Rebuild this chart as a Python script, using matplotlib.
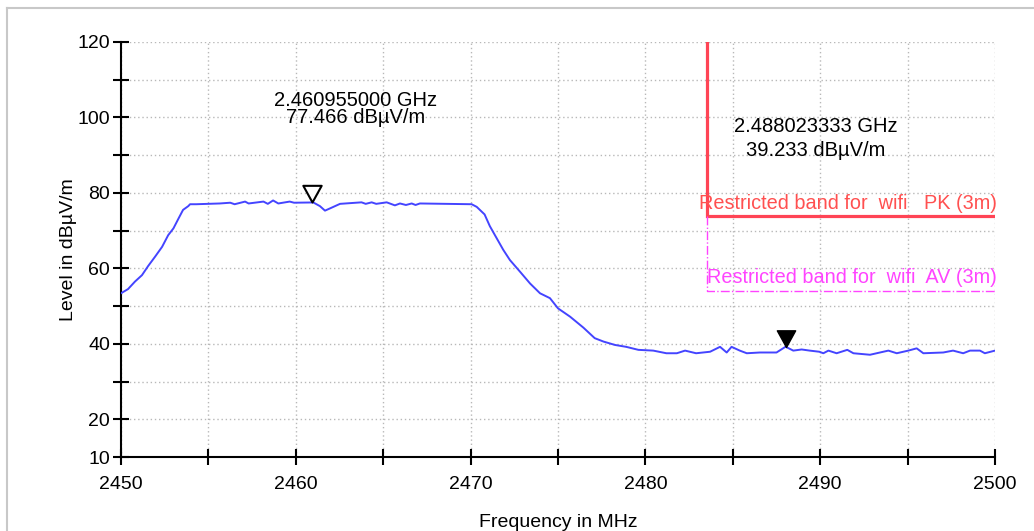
import matplotlib
matplotlib.use('Agg')
import matplotlib.pyplot as plt
from matplotlib.lines import Line2D
from matplotlib.path import Path

plt.rcParams['font.family'] = ['Liberation Sans', 'DejaVu Sans']

# ── Trace ──
freq_mhz = [2450.0, 2450.4, 2450.8, 2451.2, 2451.55, 2451.95, 2452.35, 2452.7,
            2453.0, 2453.3, 2453.55, 2453.85, 2453.95, 2454.3, 2455.65, 2456.25,
            2456.5, 2457.1, 2457.3, 2458.15, 2458.4, 2458.7, 2459.0, 2459.65,
            2459.9, 2461.0, 2461.38, 2461.67, 2461.96, 2462.53, 2463.76, 2464.0,
            2464.34, 2464.6, 2465.2, 2465.67, 2465.96, 2466.3, 2466.63, 2466.85,
            2467.1, 2470.06, 2470.35, 2470.8, 2471.1, 2471.49, 2471.87, 2472.25,
            2472.83, 2473.4, 2473.97, 2474.54, 2475.0, 2475.69, 2476.45, 2477.1,
            2477.6, 2478.26, 2478.9, 2479.6, 2480.45, 2481.2, 2481.8, 2482.27,
            2482.9, 2483.7, 2484.27, 2484.65, 2484.93, 2485.4, 2485.8, 2486.55,
            2487.5, 2488.02, 2488.46, 2488.94, 2489.4, 2489.95, 2490.18, 2490.47,
            2490.94, 2491.55, 2491.9, 2492.85, 2493.42, 2493.9, 2494.38, 2495.04,
            2495.52, 2495.9, 2497.04, 2497.6, 2498.18, 2498.57, 2499.14, 2499.42,
            2500.0]
level_dbuv = [53.4, 54.5, 56.5, 58.2, 60.6, 63.1, 65.7, 68.8,
              70.6, 73.3, 75.5, 76.5, 77.0, 77.0, 77.2, 77.4,
              77.0, 77.7, 77.2, 77.7, 77.1, 78.0, 77.2, 77.7,
              77.4, 77.47, 76.5, 75.3, 75.9, 77.1, 77.5, 77.1,
              77.5, 77.1, 77.5, 76.7, 77.2, 76.8, 77.2, 76.8,
              77.2, 77.0, 76.3, 74.3, 71.2, 68.0, 64.9, 62.2,
              59.1, 56.0, 53.4, 52.1, 49.4, 47.2, 44.3, 41.5,
              40.6, 39.7, 39.2, 38.4, 38.2, 37.5, 37.5, 38.2,
              37.5, 37.9, 39.2, 37.7, 39.2, 38.2, 37.5, 37.7,
              37.7, 39.23, 38.2, 38.5, 38.2, 37.9, 37.5, 38.2,
              37.5, 38.4, 37.5, 37.1, 37.7, 38.2, 37.5, 38.2,
              38.8, 37.5, 37.7, 38.2, 37.5, 38.2, 38.2, 37.5,
              38.2]

# markers
mk_freq = [2460.955, 2488.023333]
mk_level = [77.466, 39.233]

# limits (restricted band edge, PK / AV)
band_edge = 2483.5
pk_limit = 74
av_limit = 54

x_ticks = list(range(2450, 2501, 5))
x_labels = [str(t) if t % 10 == 0 else '' for t in x_ticks]
y_ticks = list(range(10, 121, 10))
y_labels = [str(t) if t in (10, 20, 40, 60, 80, 100, 120) else '' for t in y_ticks]

fig = plt.figure(figsize=(10.34, 5.31), dpi=100)
fig.patch.set_facecolor('white')
ax = fig.add_axes([121/1034, 1 - 457/531, (995 - 121)/1034, (457 - 42)/531])

# panel frame (left + top only visible)
fig.add_artist(Line2D([7/1034, 7/1034], [0, 1 - 8/531], color='#c8c8c8', lw=1.5))
fig.add_artist(Line2D([7/1034, 1], [1 - 8/531, 1 - 8/531], color='#c8c8c8', lw=1.5))

# limit lines
ax.plot([band_edge, band_edge, 2500], [120, pk_limit, pk_limit],
        color='#ff4455', lw=2.3, solid_joinstyle='miter', zorder=3)
ax.plot([band_edge, band_edge, 2500], [pk_limit, av_limit, av_limit],
        color='#ff44ff', lw=1.0, linestyle='-.', zorder=3)
ax.text(2500.1, pk_limit + 0.6, 'Restricted band for  wifi   PK (3m)', ha='right', va='bottom',
        fontsize=14.3, color='#ff5050')
ax.text(2500.1, av_limit + 1.0, 'Restricted band for  wifi  AV (3m)', ha='right', va='bottom',
        fontsize=14.3, color='#ff44ff')

# trace
ax.plot(freq_mhz, level_dbuv, color='#4444ff', lw=1.4, zorder=4)

# marker triangles with tip on the trace
tri = Path([(-0.55, 1.0), (0.55, 1.0), (0.0, 0.0), (-0.55, 1.0)],
           [Path.MOVETO, Path.LINETO, Path.LINETO, Path.CLOSEPOLY])
ax.plot(mk_freq[0], mk_level[0], marker=tri, ms=24, mfc='white', mec='black', mew=1.5,
        zorder=5, clip_on=False)
ax.plot(mk_freq[1], mk_level[1], marker=tri, ms=24, mfc='black', mec='black', mew=1.0,
        zorder=5, clip_on=False)

# marker readouts
ax.text(2463.4, 104.6, '2.460955000 GHz', ha='center', va='center', fontsize=14.5)
ax.text(2463.4, 100.0, '77.466 dBµV/m', ha='center', va='center', fontsize=14.5)
ax.text(2489.75, 97.6, '2.488023333 GHz', ha='center', va='center', fontsize=14.5)
ax.text(2489.75, 91.2, '39.233 dBµV/m', ha='center', va='center', fontsize=14.5)

ax.set_xlim(2450, 2500)
ax.set_ylim(10, 120)
ax.set_xticks(x_ticks)
ax.set_xticklabels(x_labels)
ax.set_yticks(y_ticks)
ax.set_yticklabels(y_labels)
ax.tick_params(axis='both', direction='inout', length=12, width=1.5, labelsize=14)
ax.tick_params(axis='x', pad=8)
ax.tick_params(axis='y', pad=2)
ax.grid(True, color='#b8b8b8', linestyle=(0, (1, 2)), lw=1.0)
for side in ('top', 'right'):
    ax.spines[side].set_visible(False)
for side in ('left', 'bottom'):
    ax.spines[side].set_linewidth(1.5)

ax.set_xlabel('Frequency in MHz', fontsize=14, labelpad=15)
ax.set_ylabel('Level in dBµV/m', fontsize=14, labelpad=0)

fig.savefig('out.png', dpi=100, facecolor='white')
plt.close()
